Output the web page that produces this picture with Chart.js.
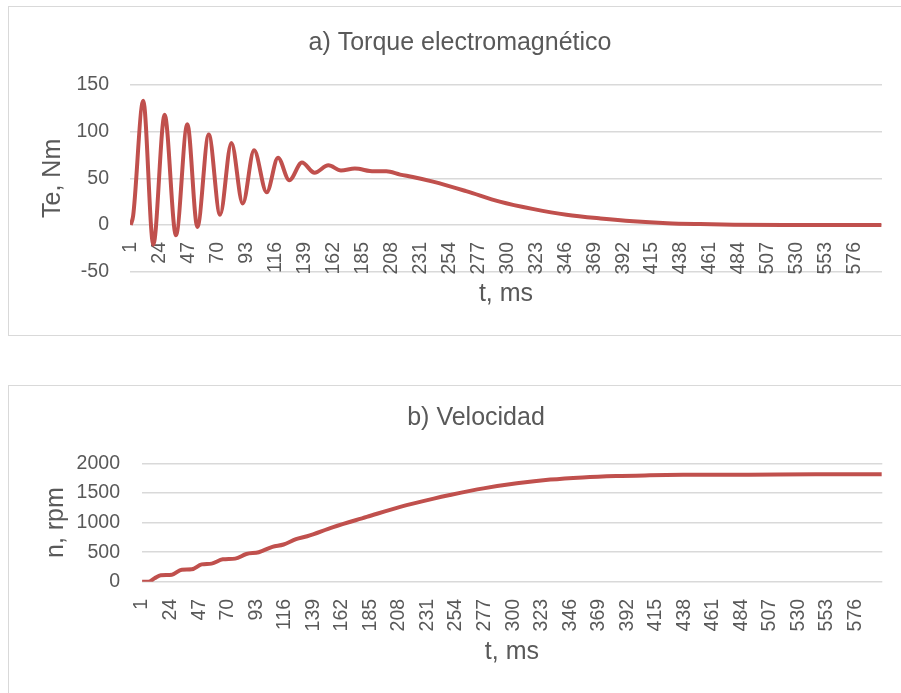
<!DOCTYPE html>
<html>
<head>
<meta charset="utf-8">
<script src="https://cdn.jsdelivr.net/npm/chart.js@4"></script>
<style>
  html, body { margin: 0; padding: 0; background: #fff; overflow: hidden; width: 901px; height: 693px; }
  .box { position: absolute; border: 1px solid #d9d9d9; background: #fff; }
  #boxA { left: 8px; top: 6px; width: 960px; height: 328px; }
  #boxB { left: 8px; top: 385px; width: 960px; height: 330px; }
  canvas { position: absolute; left: 0; top: 0; }
</style>
</head>
<body>
<div class="box" id="boxA"><canvas id="torqueChart" width="904" height="328"></canvas></div>
<div class="box" id="boxB"><canvas id="speedChart" width="904" height="320"></canvas></div>
<script>
// tick labels of the time axis (category numbers, every 23)
var timeTicks = [1, 24, 47, 70, 93, 116, 139, 162, 185, 208, 231, 254, 277, 300,
                 323, 346, 369, 392, 415, 438, 461, 484, 507, 530, 553, 576];

// a) electromagnetic torque
var torqueTime = [1, 3, 11, 19, 28, 37, 46, 54, 63, 72, 81, 90, 99, 109, 118, 127,
                  137, 147, 158, 168, 179, 194, 204, 215, 225, 241, 268, 294, 321,
                  347, 374, 400, 427, 453, 480, 520, 560, 597];
var torqueValues = [0, 10, 133, -21, 118, -11, 108, -2, 97, 11, 88, 23, 80, 35, 72, 48,
                    67, 56, 64, 58.5, 60.5, 57.5, 57.5, 54, 51.5, 46.5, 36, 25, 17,
                    11, 7, 4, 2, 1, 0.3, 0, 0, 0];

// b) speed
var speedTime = [1, 6, 11, 16, 25, 33, 41, 49, 57, 66, 76, 85, 95, 106, 115, 125, 134,
                 155, 182, 209, 236, 249, 276, 303, 330, 356, 383, 410, 437, 490, 544, 597];
var speedValues = [0, 0, 60, 110, 120, 205, 212, 295, 308, 380, 392, 470, 500, 590, 630,
                   720, 770, 925, 1095, 1265, 1405, 1465, 1577, 1662, 1725, 1762, 1785,
                   1797, 1805, 1808, 1815, 1815];

var grey = '#595959';
var fam = "'Liberation Sans', Arial, sans-serif";
var red = '#c0504d';

function points(xs, ys) {
  var out = [];
  for (var i = 0; i < xs.length; i++) out.push({x: xs[i], y: ys[i]});
  return out;
}

function timeAxis(pos, titlePadTop) {
  return {
    type: 'linear',
    position: pos,
    min: 0.5,
    max: 597.5,
    afterBuildTicks: function (s) {
      s.ticks = timeTicks.map(function (v) { return {value: v}; });
    },
    grid: { display: false, drawTicks: false },
    border: { display: false },
    ticks: {
      autoSkip: false, maxRotation: 90, minRotation: 90, padding: 17,
      color: grey, font: { family: fam, size: 19.5 }
    },
    title: {
      display: true, text: 't, ms', color: grey,
      font: { family: fam, size: 25 },
      padding: { top: titlePadTop, bottom: 0 }
    }
  };
}

var torqueChart = new Chart(document.getElementById('torqueChart').getContext('2d'), {
  type: 'line',
  data: {
    datasets: [{
      label: 'Te',
      data: points(torqueTime, torqueValues),
      borderColor: red,
      borderWidth: 4,
      pointRadius: 0,
      fill: false,
      cubicInterpolationMode: 'monotone'
    }]
  },
  options: {
    responsive: false,
    animation: false,
    devicePixelRatio: 1,
    layout: { padding: { left: 29, top: 11, right: 31, bottom: 63.3 } },
    plugins: {
      legend: { display: false },
      tooltip: { enabled: false },
      title: {
        display: true, text: 'a) Torque electromagnético', color: grey,
        font: { family: fam, size: 25, weight: 'normal' },
        padding: { top: 10, bottom: 27 }
      }
    },
    scales: {
      x: timeAxis({ y: 0 }, -12.5),
      y: {
        min: -50, max: 150,
        afterFit: function (s) { s.width = 92; },
        grid: { color: '#d9d9d9', lineWidth: 1.5, drawTicks: false },
        border: { display: false },
        ticks: { stepSize: 50, autoSkip: false, padding: 21, color: grey, font: { family: fam, size: 19.5 } },
        title: {
          display: true, text: 'Te, Nm', color: grey,
          font: { family: fam, size: 25 },
          padding: { top: 0, bottom: 0 }
        }
      }
    }
  }
});

var speedChart = new Chart(document.getElementById('speedChart').getContext('2d'), {
  type: 'line',
  data: {
    datasets: [{
      label: 'n',
      data: points(speedTime, speedValues),
      borderColor: red,
      borderWidth: 4,
      pointRadius: 0,
      fill: false,
      cubicInterpolationMode: 'monotone'
    }]
  },
  options: {
    responsive: false,
    animation: false,
    devicePixelRatio: 1,
    layout: { padding: { left: 60.7, top: 7, right: 30.7, bottom: 38.8 } },
    plugins: {
      legend: { display: false },
      tooltip: { enabled: false },
      title: {
        display: true, text: 'b) Velocidad', color: grey,
        font: { family: fam, size: 25, weight: 'normal' },
        padding: { top: 10, bottom: 30.3 }
      }
    },
    scales: {
      x: timeAxis('bottom', -11.2),
      y: {
        min: 0, max: 2000,
        afterFit: function (s) { s.width = 71.8; },
        grid: { color: '#d9d9d9', lineWidth: 1.5, drawTicks: false },
        border: { display: false },
        ticks: {
          stepSize: 500, autoSkip: false, padding: 21.5, color: grey, font: { family: fam, size: 19.5 },
          callback: function (v) { return String(v); }
        },
        title: {
          display: true, text: 'n, rpm', color: grey,
          font: { family: fam, size: 25 },
          padding: { top: -28.7, bottom: 0 }
        }
      }
    }
  }
});
</script>
</body>
</html>
